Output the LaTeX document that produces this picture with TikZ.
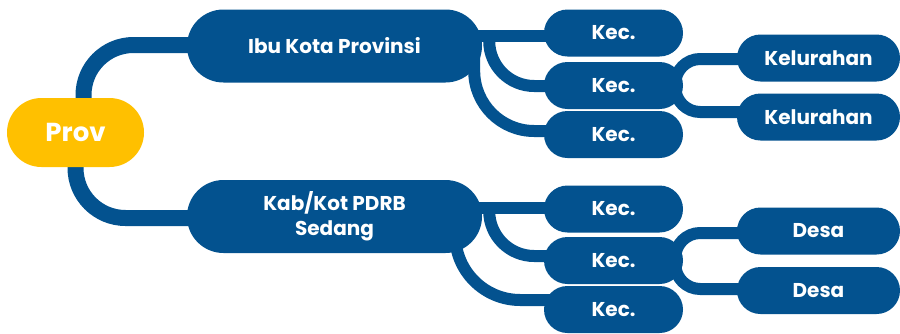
\documentclass[tikz,border=0pt]{standalone}
\usepackage{fontspec}
\setmainfont{Poppins}
\usetikzlibrary{positioning,calc,shapes.misc,backgrounds}
\definecolor{provblue}{RGB}{3,82,143}
\definecolor{provgold}{RGB}{255,192,0}
\tikzset{
  pill/.style={rounded rectangle,fill=provblue,text=white,inner sep=0pt,
    font=\bfseries\fontsize{20}{25}\selectfont,align=center},
  twig/.style={draw=provblue,line width=12pt},
  limb/.style={draw=provblue,line width=16pt}
}

\begin{document}
\begin{tikzpicture}[x=1pt,y=-1pt]
\useasboundingbox (0,0) rectangle (900,333);
% nodes
\node[pill,fill=provgold,minimum width=137pt,minimum height=69pt,
  font=\bfseries\fontsize{26}{30}\selectfont] (prov) at (75.5,132.5) {Prov};
\node[pill,minimum width=295pt,minimum height=73pt] (ibu) at (334.5,46) {Ibu Kota Provinsi};
\node[pill,minimum width=295pt,minimum height=73pt] (kab) at (334.5,216.5) {Kab/Kot PDRB\\Sedang};
\node[pill,minimum width=139pt,minimum height=47pt] (keca) at (613.5,33) {Kec.};
\node[pill,minimum width=139pt,minimum height=47pt] (kecb) at (613.5,85.5) {Kec.};
\node[pill,minimum width=139pt,minimum height=47pt] (kecc) at (613.5,134.5) {Kec.};
\node[pill,minimum width=139pt,minimum height=47pt] (kecd) at (613.5,209) {Kec.};
\node[pill,minimum width=139pt,minimum height=47pt] (kece) at (613.5,260.5) {Kec.};
\node[pill,minimum width=139pt,minimum height=47pt] (kecf) at (613.5,309.5) {Kec.};
\node[pill,minimum width=163pt,minimum height=47pt] (kela) at (818.5,58) {Kelurahan};
\node[pill,minimum width=163pt,minimum height=47pt] (kelb) at (818.5,117) {Kelurahan};
\node[pill,minimum width=163pt,minimum height=47pt] (desa) at (818.5,231) {Desa};
\node[pill,minimum width=163pt,minimum height=47pt] (desb) at (818.5,290.5) {Desa};
% connectors, behind the nodes
\begin{pgfonlayer}{background}
\draw[limb,rounded corners=50pt] ($(prov.center)+(8,0)$) |- ($(ibu.center)+(0,-1)$);
\draw[limb,rounded corners=50pt] (prov.center) |- ($(kab.center)+(0,1.5)$);
\draw[twig] ($(ibu.east)+(-30,-10)$) -- ($(keca.west)+(10,3)$);
\draw[twig,rounded corners=45pt] ($(ibu.east)+(7,-10)$) |- ($(kecb.west)+(10,0.5)$);
\draw[twig,rounded corners=60pt] ($(ibu.east)+(-8,0)$) |- ($(kecc.west)+(10,-3.5)$);
\draw[twig,rounded corners=25pt] ($(kecb.east)+(-8,0)$) |- ($(kela.west)+(10,1)$);
\draw[twig,rounded corners=25pt] ($(kecb.east)+(-8,0)$) |- ($(kelb.west)+(10,-5)$);
\draw[twig] ($(kab.east)+(-30,-9)$) -- ($(kecd.west)+(10,-1.5)$);
\draw[twig,rounded corners=45pt] ($(kab.east)+(7,-9)$) |- ($(kece.west)+(10,-4.5)$);
\draw[twig,rounded corners=65pt] ($(kab.east)+(-27,0)$) |- ($(kecf.west)+(10,-9.5)$);
\draw[twig,rounded corners=25pt] ($(kece.east)+(-8,0)$) |- ($(desa.west)+(10,2)$);
\draw[twig,rounded corners=25pt] ($(kece.east)+(-8,0)$) |- ($(desb.west)+(10,-1.5)$);
\end{pgfonlayer}
\end{tikzpicture}
\end{document}
